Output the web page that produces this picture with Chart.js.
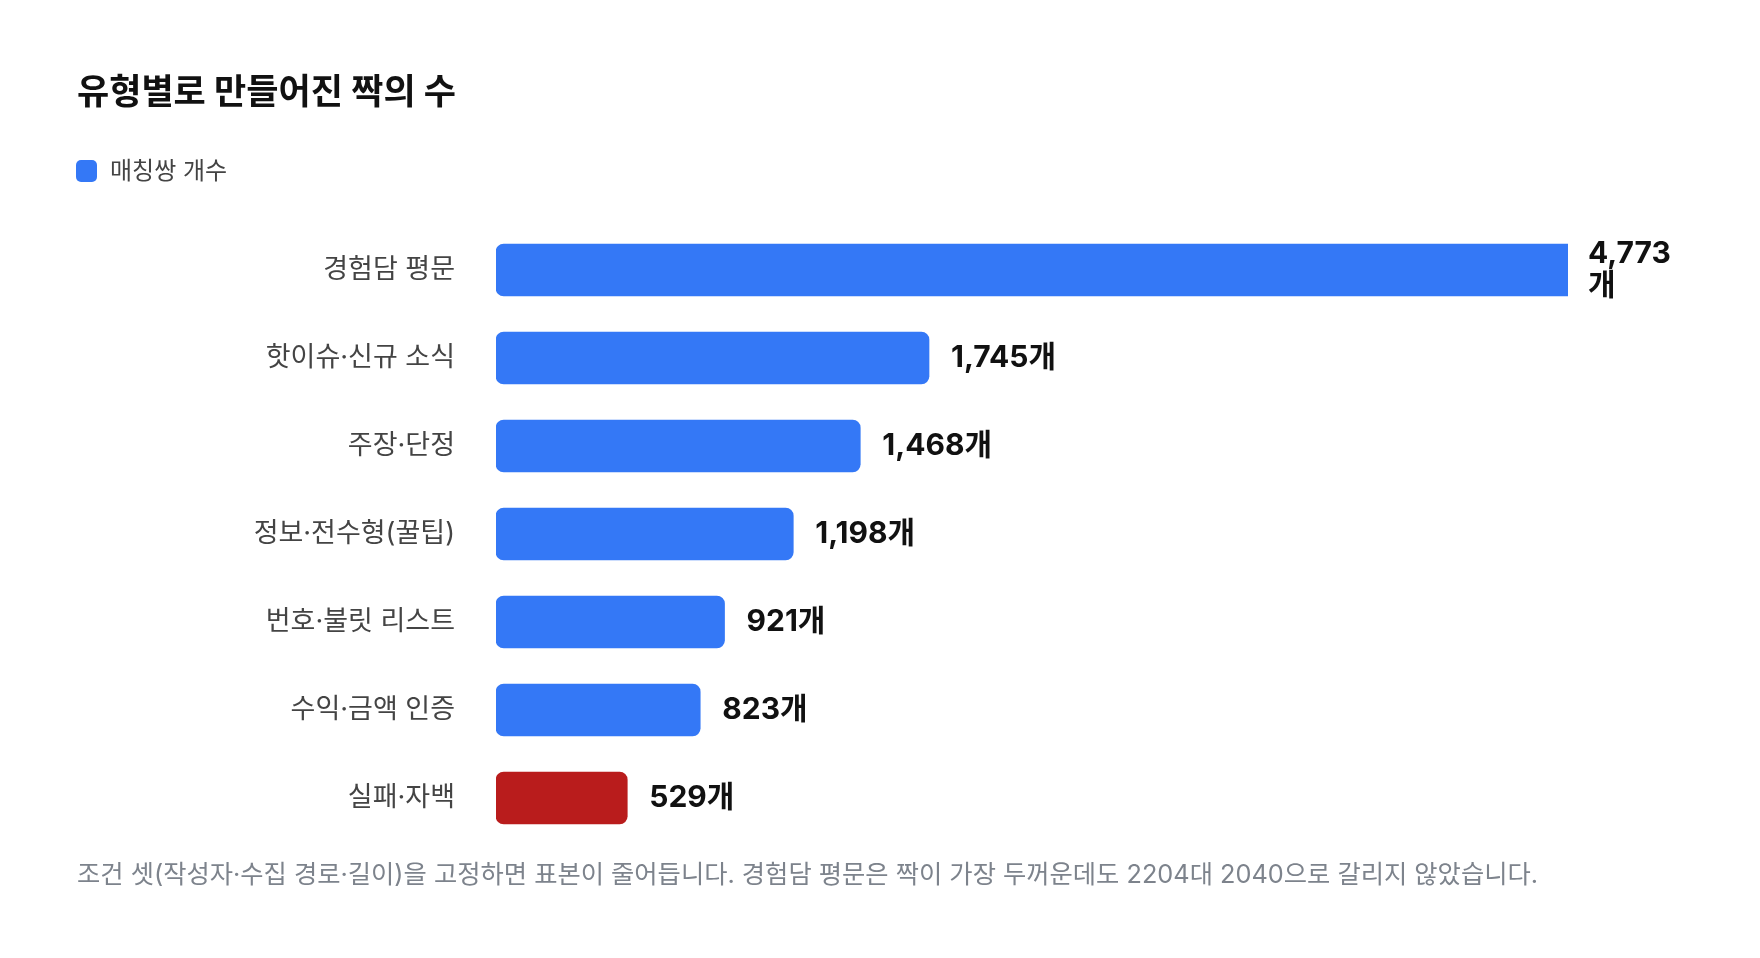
<!DOCTYPE html>
<html lang="ko">
<head>
<meta charset="utf-8">
<title>유형별로 만들어진 짝의 수</title>
<script src="https://cdn.jsdelivr.net/npm/chart.js@4.4.1/dist/chart.umd.min.js"></script>
<style>
  html, body { margin: 0; padding: 0; background: #fff; overflow: hidden; }
  body { font-family: Inter, "Noto Sans CJK KR", "Noto Sans", sans-serif; }
  .chart-wrap { position: absolute; left: 0; top: 0; width: 1760px; height: 958px; }
  .chart-title { position: absolute; left: 77px; top: 70px; margin: 0; font-size: 35px; line-height: 42px; font-weight: 700; color: #111; }
  #pairs-chart-legend ul { position: absolute; left: 76px; top: 154px; margin: 0; padding: 0; list-style: none; }
  #pairs-chart-legend li { display: flex; align-items: center; font-size: 24px; line-height: 34px; color: #444; }
  #pairs-chart-legend li span { display: inline-block; width: 21px; height: 22px; border-radius: 5px; margin-right: 13px; }
  .chart-note { position: absolute; left: 77px; top: 857px; margin: 0; font-size: 25.3px; line-height: 34px; color: #7d838c; }
</style>
</head>
<body>
<div class="chart-wrap"><canvas id="pairs-chart"></canvas></div>
<h2 class="chart-title">유형별로 만들어진 짝의 수</h2>
<div id="pairs-chart-legend"></div>
<p class="chart-note">조건 셋(작성자·수집 경로·길이)을 고정하면 표본이 줄어듭니다. 경험담 평문은 짝이 가장 두꺼운데도 2204대 2040으로 갈리지 않았습니다.</p>

<script>
  const categories = ["경험담 평문", "핫이슈·신규 소식", "주장·단정", "정보·전수형(꿀팁)", "번호·불릿 리스트", "수익·금액 인증", "실패·자백"];
  const pairCounts = [4773, 1745, 1468, 1198, 921, 823, 529];
  const seriesLabel = "매칭쌍 개수";
  const highlightCategory = "실패·자백";
  const valueUnit = "개";

  const BLUE = "#3478F6";
  const RED = "#B91C1C";
  const FONT = 'Inter, "Noto Sans CJK KR", "Noto Sans", sans-serif';

  // value labels at the end of each bar, wrapped when they run past the page margin
  const valueLabels = {
    id: 'valueLabels',
    afterDatasetsDraw: function (chart) {
      const ctx = chart.ctx;
      const meta = chart.getDatasetMeta(0);
      const rightEdge = chart.width - 77;
      ctx.save();
      ctx.font = '700 30px ' + FONT;
      ctx.fillStyle = '#111';
      ctx.textBaseline = 'middle';
      ctx.textAlign = 'left';
      meta.data.forEach(function (bar, i) {
        const num = pairCounts[i].toLocaleString('en-US');
        const end = Math.min(bar.x, chart.chartArea.right);
        const x = end + (bar.x > chart.chartArea.right ? 20 : 22);
        const text = num + valueUnit;
        if (x + ctx.measureText(text).width > rightEdge) {
          ctx.fillText(num, x, bar.y - 16);
          ctx.fillText(valueUnit, x, bar.y + 16);
        } else {
          ctx.fillText(text, x, bar.y);
        }
      });
      ctx.restore();
    }
  };

  const htmlLegend = {
    id: 'htmlLegend',
    afterUpdate: function (chart) {
      const legendId = chart.canvas.id + '-legend';
      const box = document.getElementById(legendId);
      box.innerHTML = '';
      const ul = document.createElement('ul');
      chart.data.datasets.forEach(function (ds) {
        ul.innerHTML += '<li><span style="background-color: ' + BLUE + '"></span>' + ds.label + '</li>';
      });
      box.appendChild(ul);
    }
  };

  new Chart(document.getElementById('pairs-chart'), {
    type: 'bar',
    data: {
      labels: categories,
      datasets: [{
        label: seriesLabel,
        data: pairCounts,
        backgroundColor: function (c) {
          return categories[c.dataIndex] === highlightCategory ? RED : BLUE;
        },
        borderRadius: 8,
        borderSkipped: false,
        barThickness: 52
      }]
    },
    options: {
      indexAxis: 'y',
      responsive: true,
      maintainAspectRatio: false,
      animation: false,
      layout: {
        padding: { top: 226, bottom: 116, left: 0, right: 192 }
      },
      scales: {
        x: {
          display: false,
          min: 0,
          max: 4320
        },
        y: {
          border: { display: false },
          grid: { display: false, drawTicks: false },
          ticks: {
            color: '#444',
            padding: 41,
            font: { family: FONT, size: 27 }
          },
          afterFit: function (scale) {
            scale.width = 496;
          }
        }
      },
      plugins: {
        legend: { display: false },
        tooltip: { enabled: false }
      }
    },
    plugins: [valueLabels, htmlLegend]
  });
</script>
</body>
</html>
